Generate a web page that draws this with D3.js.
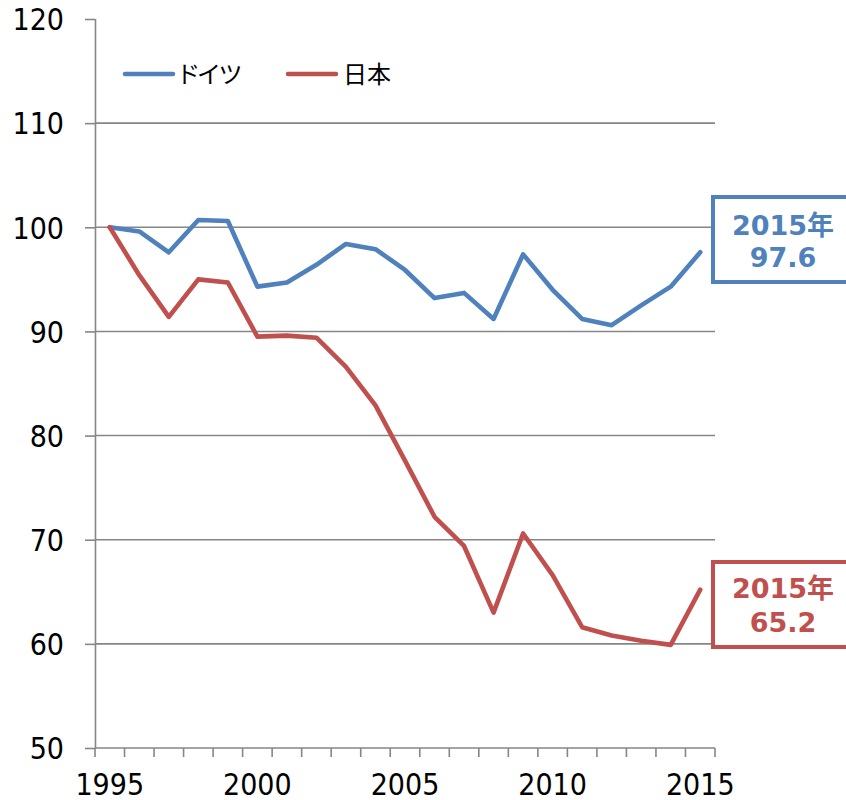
<!DOCTYPE html>
<html>
<head>
<meta charset="utf-8">
<script src="https://cdn.jsdelivr.net/npm/d3@7"></script>
<style>
  html, body { margin: 0; padding: 0; background: #fff; }
  svg { display: block; }
  .tick-label { font-family: "DejaVu Sans Condensed", "Liberation Sans", sans-serif; font-size: 30px; fill: #000; }
  .legend-label { font-family: "Noto Sans CJK JP", sans-serif; font-size: 24px; fill: #000; font-feature-settings: "palt"; }
  .note { font-family: "DejaVu Sans", "Noto Sans CJK JP", sans-serif; font-weight: bold; font-size: 27px; }
</style>
</head>
<body>
<svg id="chart" width="846" height="800"></svg>
<script>
// ---- data ----
const years = [1995, 1996, 1997, 1998, 1999, 2000, 2001, 2002, 2003, 2004, 2005,
               2006, 2007, 2008, 2009, 2010, 2011, 2012, 2013, 2014, 2015];
const germany = [100, 99.6, 97.6, 100.7, 100.6, 94.3, 94.7, 96.4, 98.4, 97.9, 95.9,
                 93.2, 93.7, 91.2, 97.4, 94.0, 91.2, 90.6, 92.5, 94.3, 97.6];
const japan = [100, 95.4, 91.4, 95.0, 94.7, 89.5, 89.6, 89.4, 86.6, 82.9, 77.6,
               72.2, 69.4, 63.0, 70.6, 66.6, 61.6, 60.8, 60.3, 59.9, 65.2];
const yTicks = [50, 60, 70, 80, 90, 100, 110, 120];
const xTickLabels = [1995, 2000, 2005, 2010, 2015];
const seriesNames = ["ドイツ", "日本"];
const seriesColors = ["#4F81BD", "#C0504D"];
const noteLine1 = "2015年";
const noteValues = ["97.6", "65.2"];

(function () {
// ---- layout ----
const svg = d3.select("#chart");
const pl = 95, pr = 715, pt = 19, pb = 748;
const axisColor = "#868686";

const x = d3.scaleBand().domain(years).range([pl, pr]);
const y = d3.scaleLinear().domain([50, 120]).range([pb, pt]);
const cx = d => x(d) + x.bandwidth() / 2;

// gridlines
svg.append("g").selectAll("line")
  .data(yTicks.filter(v => v > 50 && v < 120))
  .join("line")
  .attr("x1", pl).attr("x2", pr)
  .attr("y1", d => y(d)).attr("y2", d => y(d))
  .attr("stroke", axisColor).attr("stroke-width", 1.6);

// y axis
const yAxis = d3.axisLeft(y).tickValues(yTicks).tickSize(10).tickPadding(21).tickFormat(d3.format("d"));
const gy = svg.append("g").attr("transform", `translate(${pl},0)`).call(yAxis);
gy.select(".domain").attr("stroke", axisColor).attr("stroke-width", 1.6).attr("d", `M0.5,${pt}V${pb}`);
gy.selectAll(".tick line").attr("stroke", axisColor).attr("stroke-width", 1.6);
gy.selectAll(".tick text").attr("fill", "#000").attr("dy", "0.36em")
  .style("font-family", '"DejaVu Sans Condensed", "Liberation Sans", sans-serif').style("font-size", "30px");

// x axis line and ticks at band boundaries
const bounds = years.map(d => x(d)).concat([x(years[years.length - 1]) + x.bandwidth()]);
svg.append("line").attr("x1", pl).attr("x2", pr).attr("y1", pb).attr("y2", pb)
  .attr("stroke", axisColor).attr("stroke-width", 1.6);
svg.append("g").selectAll("line").data(bounds).join("line")
  .attr("x1", d => d).attr("x2", d => d).attr("y1", pb).attr("y2", pb + 9)
  .attr("stroke", axisColor).attr("stroke-width", 1.6);
svg.append("g").selectAll("text").data(xTickLabels).join("text")
  .attr("class", "tick-label")
  .attr("x", d => cx(d)).attr("y", 795)
  .attr("text-anchor", "middle")
  .text(d => d);

// lines
const line = d3.line().x((d, i) => cx(years[i])).y(d => y(d));
[germany, japan].forEach((s, i) => {
  svg.append("path").datum(s)
    .attr("d", line)
    .attr("fill", "none")
    .attr("stroke", seriesColors[i])
    .attr("stroke-width", 4.6)
    .attr("stroke-linejoin", "round")
    .attr("stroke-linecap", "round");
});

// legend
const legendItems = [{x0: 125, tx: 179}, {x0: 288, tx: 343}];
legendItems.forEach((p, i) => {
  svg.append("line").attr("x1", p.x0).attr("x2", p.x0 + 48).attr("y1", 74).attr("y2", 74)
    .attr("stroke", seriesColors[i]).attr("stroke-width", 4.5).attr("stroke-linecap", "round");
  svg.append("text").attr("class", "legend-label").attr("x", p.tx).attr("y", 74)
    .attr("dy", "0.36em").text(seriesNames[i]);
});

// annotation boxes
const noteBoxes = [{y0: 197, b1: 235, b2: 267}, {y0: 562, b1: 598, b2: 632}];
noteBoxes.forEach((b, i) => {
  svg.append("rect").attr("x", 713).attr("y", b.y0).attr("width", 140).attr("height", 85)
    .attr("fill", "#fff").attr("stroke", seriesColors[i]).attr("stroke-width", 4);
  svg.append("text").attr("class", "note").attr("x", 783).attr("y", b.b1)
    .attr("text-anchor", "middle").attr("fill", seriesColors[i]).text(noteLine1);
  svg.append("text").attr("class", "note").attr("x", 783).attr("y", b.b2)
    .attr("text-anchor", "middle").attr("fill", seriesColors[i]).text(noteValues[i]);
});
})();
</script>
</body>
</html>
